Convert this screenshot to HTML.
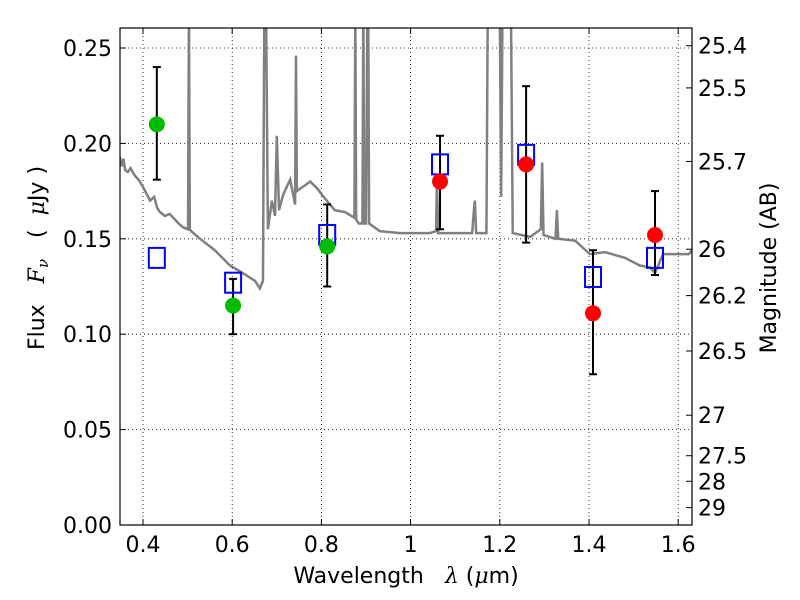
<!DOCTYPE html>
<html><head><meta charset="utf-8"><style>
body{margin:0;background:#fff}
svg{display:block;font-family:"DejaVu Sans","Liberation Sans",sans-serif}
</style></head><body>
<svg id="c" width="800" height="600"></svg>
<script>
const specLam=[0.348,0.352,0.356,0.360,0.366,0.372,0.382,0.390,0.398,0.416,0.425,0.432,0.438,0.449,0.460,0.472,0.480,0.490,0.501,0.503,0.505,0.508,0.528,0.561,0.595,0.617,0.651,0.662,0.669,0.672,0.676,0.680,0.689,0.696,0.700,0.705,0.714,0.730,0.741,0.743,0.745,0.763,0.775,0.792,0.805,0.812,0.819,0.830,0.853,0.874,0.876,0.878,0.884,0.892,0.894,0.896,0.900,0.903,0.905,0.907,0.913,0.931,0.976,1.043,1.057,1.059,1.062,1.080,1.138,1.142,1.144,1.147,1.170,1.173,1.176,1.200,1.203,1.206,1.225,1.229,1.268,1.292,1.295,1.298,1.325,1.328,1.331,1.369,1.402,1.436,1.481,1.514,1.537,1.548,1.566,1.590,1.624,1.631];
const specFlux=[0.193,0.188,0.192,0.186,0.185,0.187,0.183,0.181,0.178,0.170,0.172,0.166,0.164,0.162,0.163,0.160,0.158,0.156,0.155,0.27,0.155,0.154,0.150,0.144,0.136,0.133,0.128,0.124,0.128,0.27,0.27,0.155,0.170,0.162,0.204,0.165,0.173,0.181,0.168,0.246,0.175,0.178,0.180,0.176,0.172,0.170,0.168,0.165,0.164,0.161,0.27,0.160,0.158,0.158,0.27,0.158,0.158,0.27,0.27,0.158,0.157,0.154,0.153,0.153,0.154,0.180,0.153,0.153,0.153,0.165,0.170,0.153,0.153,0.27,0.27,0.27,0.172,0.27,0.27,0.153,0.151,0.155,0.190,0.152,0.150,0.165,0.150,0.149,0.142,0.143,0.140,0.136,0.135,0.132,0.142,0.142,0.142,0.144];
const obsLam=[0.431,0.602,0.813,1.066,1.259,1.409,1.548];
const obsFlux=[0.210,0.115,0.146,0.180,0.189,0.111,0.152];
const errLo=[0.181,0.100,0.125,0.155,0.148,0.079,0.131];
const errHi=[0.240,0.129,0.168,0.204,0.230,0.144,0.175];
const obsColor=["#00bb00","#00bb00","#00bb00","#ff0000","#ff0000","#ff0000","#ff0000"];
const modelFlux=[0.140,0.127,0.152,0.189,0.194,0.130,0.140];
const xTicks=[0.4,0.6,0.8,1.0,1.2,1.4,1.6];
const xTickLabels=["0.4","0.6","0.8","1","1.2","1.4","1.6"];
const yTicks=[0,0.05,0.10,0.15,0.20,0.25];
const yTickLabels=["0.00","0.05","0.10","0.15","0.20","0.25"];
const magTicks=[25.4,25.5,25.7,26,26.2,26.5,27,27.5,28,29];
const magLabels=["25.4","25.5","25.7","26","26.2","26.5","27","27.5","28","29"];

const L=120,R=692,T=28,B=525;
const X=v=>143+(v-0.4)*446;
const Y=v=>525-v*1908;
const NS="http://www.w3.org/2000/svg";
const svg=document.getElementById('c');
function mk(t,a,p){const e=document.createElementNS(NS,t);for(const k in a)e.setAttribute(k,a[k]);(p||svg).appendChild(e);return e;}
const defs=mk('defs',{});const cp=mk('clipPath',{id:'cp'},defs);mk('rect',{x:L,y:T,width:R-L,height:B-T},cp);

const grid=mk('g',{});


xTicks.forEach((v,i)=>{
  mk('line',{x1:X(v),x2:X(v),y1:T,y2:B,stroke:'#000','stroke-width':0.8,'stroke-dasharray':'1,3'},grid);
  mk('line',{x1:X(v),x2:X(v),y1:B,y2:B-6,stroke:'#000'},grid);
  mk('line',{x1:X(v),x2:X(v),y1:T,y2:T+6,stroke:'#000'},grid);
  const t=mk('text',{x:X(v),y:B+27,'text-anchor':'middle','font-size':22});t.textContent=xTickLabels[i];
  
  
});
yTicks.forEach((v,i)=>{
  mk('line',{x1:L,x2:R,y1:Y(v),y2:Y(v),stroke:'#000','stroke-width':0.8,'stroke-dasharray':'1,3'},grid);
  mk('line',{x1:L,x2:L+6,y1:Y(v),y2:Y(v),stroke:'#000'},grid);
  const t=mk('text',{x:L-8,y:Y(v)+8,'text-anchor':'end','font-size':22});t.textContent=yTickLabels[i];
  
  
});
magTicks.forEach((m,i)=>{
  const f=Math.pow(10,(23.9-m)/2.5);
  mk('line',{x1:R,x2:R-6,y1:Y(f),y2:Y(f),stroke:'#000'},grid);
  const t=mk('text',{x:R+6,y:Y(f)+8,'font-size':22});t.textContent=magLabels[i];
  
  
});

const sp=mk('polyline',{points:specLam.map((l,i)=>X(l)+','+Y(specFlux[i])).join(' '),fill:'none',stroke:'#808080','stroke-width':2.5,'clip-path':'url(#cp)'});



obsLam.forEach((l,i)=>{
  const g=mk('g',{});
  
  
  mk('line',{x1:X(l),x2:X(l),y1:Y(errLo[i]),y2:Y(errHi[i]),stroke:'#000','stroke-width':2},g);
  mk('line',{x1:X(l)-4,x2:X(l)+4,y1:Y(errLo[i]),y2:Y(errLo[i]),stroke:'#000','stroke-width':2},g);
  mk('line',{x1:X(l)-4,x2:X(l)+4,y1:Y(errHi[i]),y2:Y(errHi[i]),stroke:'#000','stroke-width':2},g);
  const s=mk('rect',{x:X(l)-8,y:Y(modelFlux[i])-10,width:16,height:20,fill:'none',stroke:'#0000ff','stroke-width':2});
  
  
  const c=mk('circle',{cx:X(l),cy:Y(obsFlux[i]),r:8,fill:obsColor[i]});
  
  
});

const fr=mk('rect',{x:L,y:T,width:R-L,height:B-T,fill:'none',stroke:'#000','stroke-width':1.2});



const xl=mk('text',{x:406,y:583,'text-anchor':'middle','font-size':22});
xl.innerHTML='Wavelength&#160;&#160;&#160;<tspan font-style="italic" font-family="DejaVu Serif">λ</tspan>&#160;(<tspan font-style="italic" font-family="DejaVu Serif">μ</tspan>m)';


const yl=mk('text',{x:0,y:0,'text-anchor':'middle','font-size':22,transform:'translate(44,258) rotate(-90)'});
yl.innerHTML='Flux&#160;&#160;&#160;<tspan font-style="italic" font-family="DejaVu Serif">F</tspan><tspan font-style="italic" font-size="15" dy="4" font-family="DejaVu Serif">ν</tspan><tspan dy="-4">&#160;&#160;&#160;(&#160;&#160;</tspan><tspan font-style="italic" font-family="DejaVu Serif">μ</tspan>Jy&#160;)';


const ml=mk('text',{x:0,y:0,'text-anchor':'middle','font-size':22,transform:'translate(776,268) rotate(-90)'});
ml.textContent='Magnitude (AB)';


</script>
</body></html>
